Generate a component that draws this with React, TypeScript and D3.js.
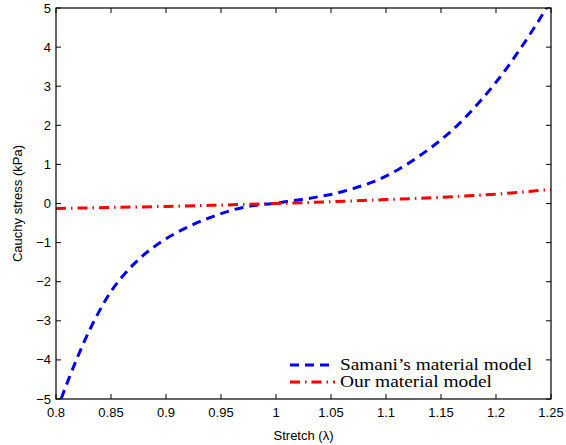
import * as d3 from 'd3';
import React from 'react';

// stretch values (lambda) sampled along the curves
const stretch = [
  0.80, 0.81, 0.82, 0.83, 0.84, 0.85, 0.86, 0.87, 0.88, 0.89,
  0.90, 0.91, 0.92, 0.93, 0.94, 0.95, 0.96, 0.97, 0.98, 0.99,
  1.00, 1.01, 1.02, 1.03, 1.04, 1.05, 1.06, 1.07, 1.08, 1.09,
  1.10, 1.11, 1.12, 1.13, 1.14, 1.15, 1.16, 1.17, 1.18, 1.19,
  1.20, 1.21, 1.22, 1.23, 1.24, 1.25,
];
// Samani's model (kPa)
const samani = [
  -5.35, -4.6, -3.9, -3.27, -2.72, -2.25, -1.88, -1.57, -1.31, -1.09,
  -0.90, -0.74, -0.60, -0.47, -0.36, -0.26, -0.17, -0.10, -0.05, -0.02,
  0.01, 0.05, 0.09, 0.13, 0.18, 0.23, 0.30, 0.38, 0.47, 0.57,
  0.70, 0.85, 1.02, 1.21, 1.41, 1.63, 1.87, 2.14, 2.44, 2.76,
  3.10, 3.47, 3.87, 4.29, 4.73, 5.2,
];
// our model, sampled more coarsely
const ourStretch = [0.80, 0.85, 0.90, 0.95, 1.00, 1.05, 1.10, 1.15, 1.20, 1.25];
const ourModel = [-0.13, -0.10, -0.075, -0.04, 0.0, 0.045, 0.10, 0.16, 0.24, 0.36];

const xTicks = [0.8, 0.85, 0.9, 0.95, 1, 1.05, 1.1, 1.15, 1.2, 1.25];
const yTicks = [-5, -4, -3, -2, -1, 0, 1, 2, 3, 4, 5];
const legendLabels = ['Samani\u2019s material model', 'Our material model'];

const width = 566;
const height = 445;
const margin = { top: 8, right: 15, bottom: 46, left: 56 };

const App = () => {
  const x = d3.scaleLinear().domain([0.8, 1.25]).range([margin.left, width - margin.right]);
  const y = d3.scaleLinear().domain([-5, 5]).range([height - margin.bottom, margin.top]);

  const line = d3.line<[number, number]>()
    .x(d => x(d[0]))
    .y(d => y(d[1]))
    .curve(d3.curveMonotoneX);

  const blueData = stretch.map((s, i) => [s, samani[i]] as [number, number]);
  const redData = ourStretch.map((s, i) => [s, ourModel[i]] as [number, number]);

  const x0 = margin.left, x1 = width - margin.right;
  const y0 = height - margin.bottom, y1 = margin.top;
  const tickLen = 5;
  const fmt = (v: number) => (v < 0 ? '\u2212' + Math.abs(v) : String(v));

  return (
    <svg width={width} height={height} style={{ position: 'absolute', left: 0, top: 0, background: '#fff' }}
      fontFamily="'Liberation Sans', Arial, sans-serif">
      <defs>
        <clipPath id="plot">
          <rect x={x0} y={y1} width={x1 - x0} height={y0 - y1} />
        </clipPath>
      </defs>

      {/* ticks, pointing inwards on all sides */}
      <g stroke="#000" strokeWidth={1}>
        {xTicks.map(t => (
          <g key={'x' + t}>
            <line x1={x(t)} x2={x(t)} y1={y0} y2={y0 - tickLen} />
            <line x1={x(t)} x2={x(t)} y1={y1} y2={y1 + tickLen} />
          </g>
        ))}
        {yTicks.map(t => (
          <g key={'y' + t}>
            <line x1={x0} x2={x0 + tickLen} y1={y(t)} y2={y(t)} />
            <line x1={x1} x2={x1 - tickLen} y1={y(t)} y2={y(t)} />
          </g>
        ))}
      </g>

      <g clipPath="url(#plot)" fill="none">
        <path d={line(blueData) || ''} stroke="#0000ff" strokeWidth={3} strokeDasharray="9,6" />
        <path d={line(redData) || ''} stroke="#ff0000" strokeWidth={3} strokeDasharray="10,5,1.5,5" />
      </g>

      <rect x={x0} y={y1} width={x1 - x0} height={y0 - y1} fill="none" stroke="#000" strokeWidth={1.2} />

      {/* tick labels */}
      <g fontSize={13} fill="#000">
        {xTicks.map(t => (
          <text key={'xl' + t} x={x(t)} y={y0 + 18} textAnchor="middle">{String(t)}</text>
        ))}
        {yTicks.map(t => (
          <text key={'yl' + t} x={x0 - 5} y={y(t)} dy="0.35em" textAnchor="end">{fmt(t)}</text>
        ))}
      </g>

      <text x={(x0 + x1) / 2} y={440} fontSize={13} textAnchor="middle">{'Stretch (\u03bb)'}</text>
      <text transform={`translate(22, ${(y0 + y1) / 2}) rotate(-90)`} fontSize={13} textAnchor="middle">
        Cauchy stress (kPa)
      </text>

      {/* legend */}
      <g fontFamily="'Liberation Serif', 'DejaVu Serif', serif" fontSize={16}>
        <line x1={290} x2={335} y1={365} y2={365} stroke="#0000ff" strokeWidth={3} strokeDasharray="9,6" />
        <text x={340} y={365} dy="0.33em" textLength={192} lengthAdjust="spacingAndGlyphs">{legendLabels[0]}</text>
        <line x1={290} x2={335} y1={382} y2={382} stroke="#ff0000" strokeWidth={3} strokeDasharray="10,5,1.5,5" />
        <text x={340} y={382} dy="0.33em" textLength={152} lengthAdjust="spacingAndGlyphs">{legendLabels[1]}</text>
      </g>
    </svg>
  );
};

export default App;
